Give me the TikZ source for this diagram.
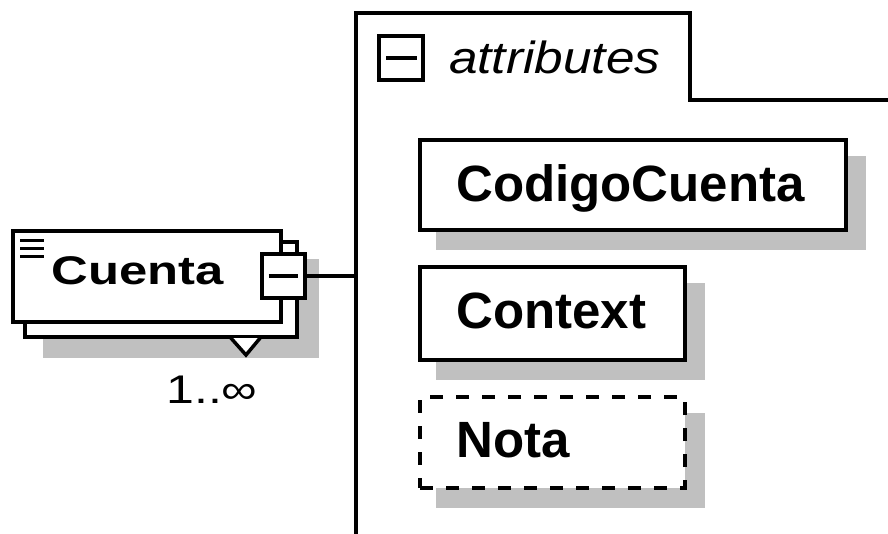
\documentclass[tikz,border=0pt]{standalone}
\usepackage{fontspec}
\usepackage{graphicx}
\setmainfont{Liberation Sans}
\definecolor{shadowgray}{RGB}{192,192,192}
\pgfdeclarelayer{bg}
\pgfsetlayers{bg,main}
\begin{document}
\begin{tikzpicture}[x=1pt,y=-1pt,
  box/.style={draw=black,line width=4pt,fill=white,inner sep=0pt,rectangle},
  optbox/.style={box,dash pattern=on 13pt off 13pt},
  sqbox/.style={draw=black,line width=4pt,fill=white,inner sep=0pt,rectangle,minimum width=43pt,minimum height=44pt},
  wire/.style={draw=black,line width=4pt},
  lbl/.style={inner sep=0pt,anchor=base west,font=\fontsize{51}{51}\selectfont\bfseries},
]
\useasboundingbox (0,0) rectangle (888,534);

% attribute boxes
\node[box,minimum width=426pt,minimum height=90pt] (cc) at (633,185) {};
\node[box,minimum width=265pt,minimum height=93pt] (ctx) at (552.5,313.5) {};
\node[optbox,minimum width=265pt,minimum height=91pt] (nota) at (552.5,442.5) {};
\node[lbl] (cctext) at (456,202) {CodigoCuenta};
\node[lbl] (ctxtext) at (456,328) {Context};
\node[lbl] (notatext) at (456,457) {Nota};

% Cuenta element
\node[box,minimum width=272pt,minimum height=95pt] (cuentaback) at (161,289.5) {};
\node[box,minimum width=268pt,minimum height=91pt] (cuenta) at (147,276.5) {};
\begin{pgfonlayer}{bg}
  \foreach \bx in {cc,ctx,nota}
    \fill[shadowgray] ([xshift=18pt,yshift=-18pt]\bx.south west) rectangle ([xshift=18pt,yshift=-18pt]\bx.north east);
  \fill[shadowgray] ([xshift=20pt,yshift=-19pt]cuentaback.south west) rectangle ([xshift=20pt,yshift=-19pt]cuentaback.north east);
\end{pgfonlayer}
\draw[line width=3pt] (20,240.3) -- (44,240.3) (20,248.5) -- (44,248.5) (20,256.8) -- (44,256.8);
\node[inner sep=0pt,anchor=base west,font=\fontsize{40}{40}\selectfont\bfseries] (cuentatext) at (51.5,285) {\scalebox{1.27}[1]{Cuenta}};
\node[sqbox] (cuentaminus) at (283,276) {};
\draw[wire] ([xshift=9pt]cuentaminus.west) -- ([xshift=-9pt]cuentaminus.east);
\fill[white] (231,338) -- (246,354) -- (260,338) -- cycle;
\draw[line width=3.5pt] (230,337) -- (246,355) -- (261,337);
\node[inner sep=0pt,anchor=base,font=\fontsize{40}{40}\selectfont] (mult) at (212,403) {\scalebox{1.25}[1]{1..∞}};

% attributes compositor tab
\coordinate (vbot) at (356,536);
\coordinate (vtop) at (356,13);
\coordinate (tabr) at (690,13);
\coordinate (tabb) at (690,100);
\coordinate (tabend) at (892,100);
\draw[wire] (vbot) -- (vtop) -- (tabr) -- (tabb) -- (tabend);
\draw[wire] (cuentaminus.east) -- (cuentaminus.east -| vtop);
\node[sqbox,minimum width=44pt] (attrminus) at (401,58) {};
\draw[wire] ([xshift=9pt]attrminus.west) -- ([xshift=-8pt]attrminus.east);
\node[inner sep=0pt,anchor=base west,font=\fontsize{45}{45}\selectfont\itshape] (attrtext) at (449,74) {\scalebox{1.14}[1]{attributes}};
\end{tikzpicture}
\end{document}
